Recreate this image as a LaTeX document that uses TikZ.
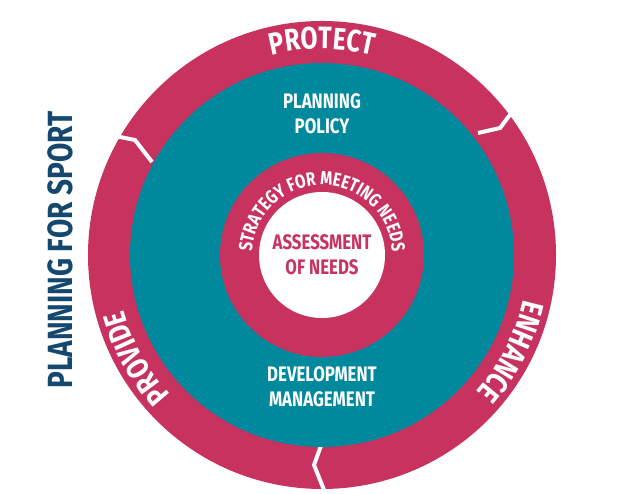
\documentclass[tikz,border=0pt]{standalone}
\usepackage{fontspec}
\setmainfont{Fira Sans}[FakeStretch=0.8]
\usetikzlibrary{decorations.text,calc}
\definecolor{mag}{HTML}{C8325F}
\definecolor{teal}{HTML}{00899C}
\definecolor{navy}{HTML}{15486F}
\begin{document}
\begin{tikzpicture}[x=1pt,y=1pt,
  gap/.style={draw=white,line width=4pt,line join=miter},
  lbl/.style={font=\bfseries\fontsize{21}{25}\selectfont,align=center}]
\useasboundingbox (0,0) rectangle (626,494);
\coordinate (c) at (322,239);
\fill[mag] (c) circle[radius=234];
\draw[gap] (478,361) -- (500,366) -- (512,382) -- (526,402);
\draw[gap] (100,361) -- (135,354) -- (152,332);
\draw[gap] (322,51) -- (314,29) -- (328,-6);
\fill[teal] (c) circle[radius=192];
\fill[mag] (c) circle[radius=102];
\fill[white] (c) circle[radius=63];
\path[decorate,decoration={text along path,text align=center,
  text={|\color{white}\bfseries\fontsize{31}{31}\selectfont|PROTECT}}]
  ($(c)+(140:206)$) arc[start angle=140,end angle=40,radius=206];
\path[decorate,decoration={text along path,text align=center,
  text={|\color{white}\bfseries\fontsize{31}{31}\selectfont|ENHANCE}}]
  ($(c)+(23:206)$) arc[start angle=23,end angle=-77,radius=206];
\path[decorate,decoration={text along path,text align=center,
  text={|\color{white}\bfseries\fontsize{31}{31}\selectfont|PROVIDE}}]
  ($(c)+(259:206)$) arc[start angle=259,end angle=159,radius=206];
\path[decorate,decoration={text along path,text align=center,
  text={|\color{white}\bfseries\fontsize{19}{19}\selectfont|STRATEGY FOR MEETING NEEDS}}]
  ($(c)+(200:70)$) arc[start angle=200,end angle=-20,radius=70];
\node[lbl,text=white] (pp) at (322,380) {PLANNING\\POLICY};
\node[lbl,text=white] (dm) at (322,107) {DEVELOPMENT\\MANAGEMENT};
\node[lbl,text=mag] (an) at (322,239) {ASSESSMENT\\OF NEEDS};
\node[font=\bfseries\fontsize{35}{35}\selectfont,text=navy,rotate=90] (ps) at (60,244) {PLANNING FOR SPORT};
\end{tikzpicture}
\end{document}
